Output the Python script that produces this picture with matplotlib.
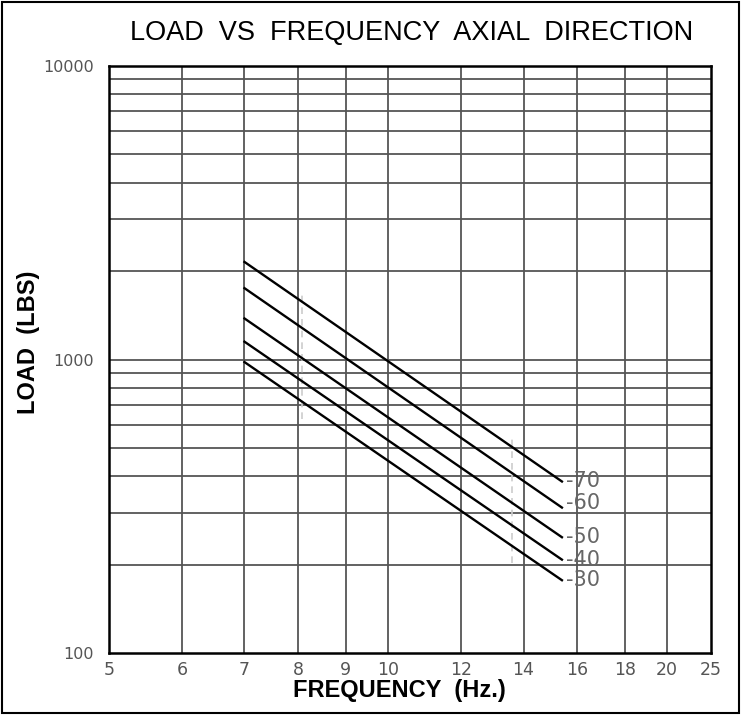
import numpy as np
import matplotlib.pyplot as plt
from matplotlib.patches import Rectangle

# curve values (load in lbs at start / end frequency)
curve_names = ["30", "40", "50", "60", "70"]
freq_start = 7.0
freq_end = 15.4
load_start = [980, 1150, 1380, 1750, 2150]
load_end = [177, 208, 248, 313, 384]
label_dy = [0, 0, 0, 5, 0]  # pixel nudges for the end labels

# faint dashed construction lines on the drawing
dash_x = [8.07, 13.6]
dash_lo = [626, 203]
dash_hi = [1683, 540]

x_ticks = [5, 6, 7, 8, 9, 10, 12, 14, 16, 18, 20, 25]
y_major = [100, 1000, 10000]
y_grid = [200, 300, 400, 500, 600, 700, 800, 900,
          2000, 3000, 4000, 5000, 6000, 7000, 8000, 9000]

# the chart paper squeezes 20..25 into a shorter step than a true log scale
L20 = np.log10(20)
K = (np.log10(22.3) - L20) / (np.log10(25) - L20)


def fwd(x):
    lx = np.log10(np.clip(x, 1e-6, None))
    return np.where(lx <= L20, lx, L20 + (lx - L20) * K)


def inv(y):
    return 10 ** np.where(y <= L20, y, L20 + (y - L20) / K)


W, H = 741, 715
fig = plt.figure(figsize=(W / 100, H / 100), dpi=100)
ax = fig.add_axes([109 / W, 1 - 653 / H, (711 - 109) / W, (653 - 66) / H])

ax.set_xscale("function", functions=(fwd, inv))
ax.set_yscale("log")
ax.set_xlim(5, 25)
ax.set_ylim(100, 10000)

grid_col = "#555555"
for xv in x_ticks[1:-1]:
    ax.axvline(xv, color=grid_col, lw=1.3, zorder=1)
for yv in y_grid + [1000]:
    ax.axhline(yv, color=grid_col, lw=1.3, zorder=1)

for i, name in enumerate(curve_names):
    ax.plot([freq_start, freq_end], [load_start[i], load_end[i]],
            color="black", lw=1.7, zorder=3)
    ax.annotate("-" + name, xy=(freq_end, load_end[i]),
                xytext=(3, label_dy[i] * 0.72), textcoords="offset points",
                ha="left", va="center", fontsize=15, color="#666666",
                family="DejaVu Sans")

for i in range(len(dash_x)):
    ax.plot([dash_x[i], dash_x[i]], [dash_lo[i], dash_hi[i]],
            color="#cccccc", lw=1.2, ls=(0, (4, 3)), zorder=2)

ax.set_xticks(x_ticks)
ax.set_xticklabels([str(v) for v in x_ticks])
ax.set_xticks([], minor=True)
ax.set_yticks(y_major)
ax.set_yticklabels([str(v) for v in y_major])
ax.set_yticks([], minor=True)
ax.tick_params(axis="both", length=0, labelcolor="#555555")
ax.tick_params(axis="x", pad=6, labelsize=12.5)
ax.tick_params(axis="y", pad=11, labelsize=11.5)

for sp in ax.spines.values():
    sp.set_linewidth(1.8)
    sp.set_color("black")

fig.text(412 / W, 1 - 33 / H, "LOAD  VS  FREQUENCY  AXIAL  DIRECTION",
         ha="center", va="center", fontsize=19.5, family="Liberation Sans")
fig.text(399 / W, 1 - 690 / H, "FREQUENCY  (Hz.)", ha="center", va="center",
         fontsize=17, fontweight="bold", family="Liberation Sans")
fig.text(28 / W, 1 - 342 / H, "LOAD  (LBS)", ha="center", va="center",
         rotation=90, fontsize=17, fontweight="bold", family="Liberation Sans")

fig.patches.append(Rectangle((2 / W, 2 / H), (W - 4) / W, (H - 4) / H,
                             transform=fig.transFigure, fill=False,
                             lw=1.5, ec="black"))

fig.savefig("out.png", dpi=100)
